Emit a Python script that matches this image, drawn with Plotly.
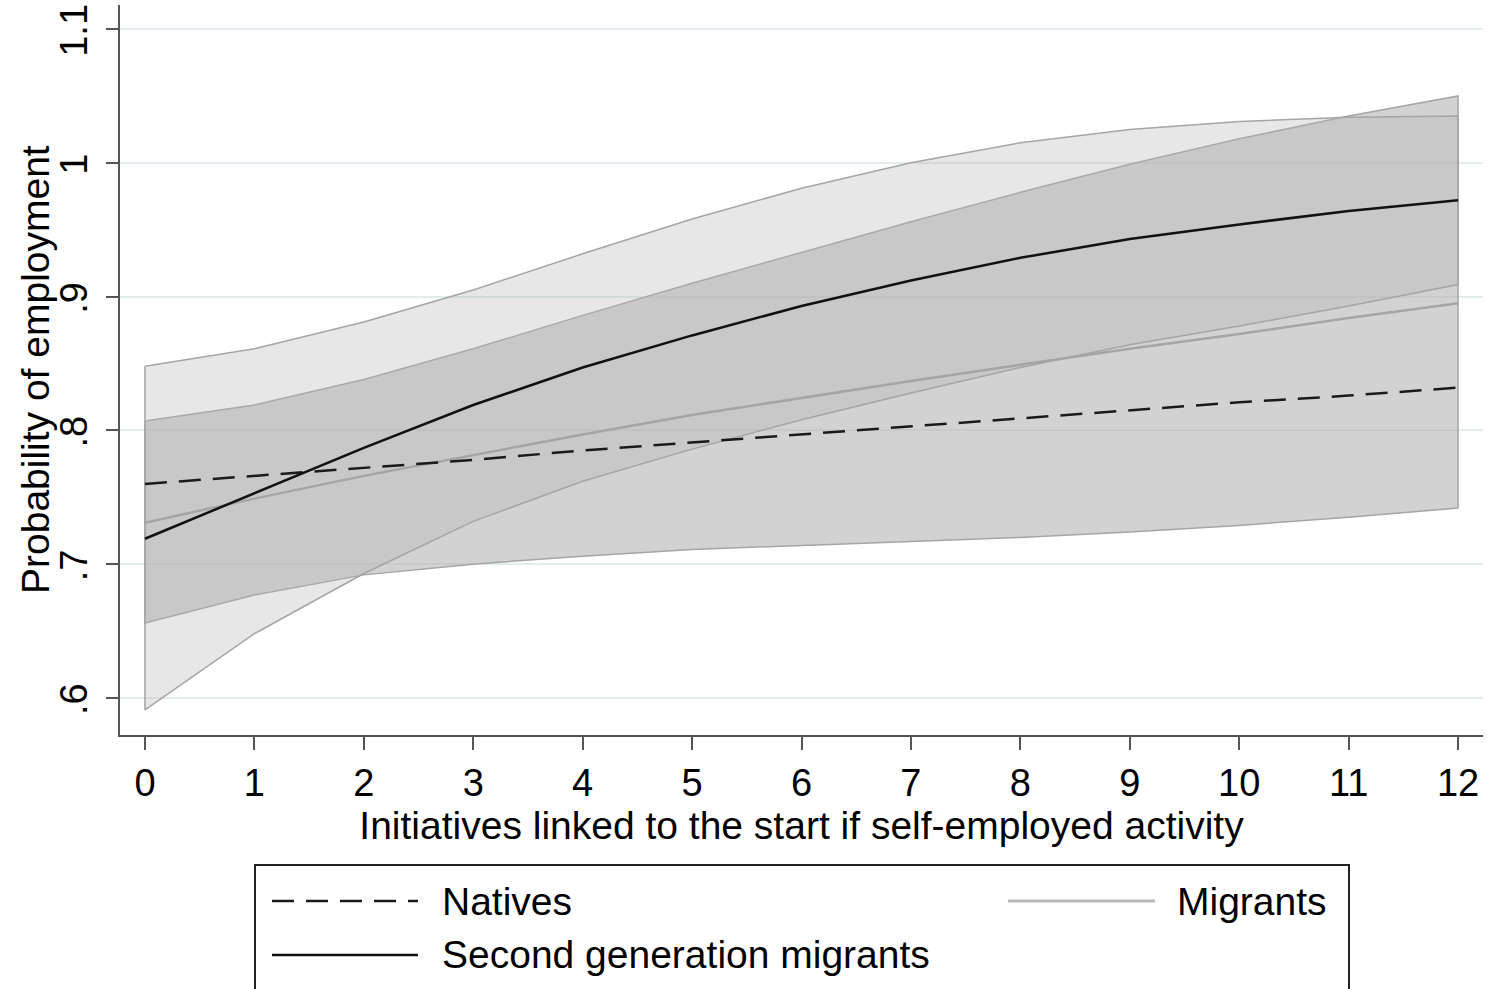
import plotly.graph_objects as go

# ---- data ----
x_vals = [0, 1, 2, 3, 4, 5, 6, 7, 8, 9, 10, 11, 12]

natives = [0.760, 0.766, 0.772, 0.778, 0.785, 0.791, 0.797, 0.803, 0.809, 0.815, 0.821, 0.826, 0.832]

second_gen = [0.719, 0.753, 0.787, 0.819, 0.847, 0.871, 0.893, 0.912, 0.929, 0.943, 0.954, 0.964, 0.972]
second_gen_lo = [0.591, 0.648, 0.693, 0.732, 0.762, 0.786, 0.808, 0.828, 0.847, 0.864, 0.878, 0.893, 0.909]
second_gen_hi = [0.848, 0.861, 0.881, 0.905, 0.932, 0.958, 0.981, 1.000, 1.015, 1.025, 1.031, 1.034, 1.035]

migrants = [0.731, 0.749, 0.766, 0.7815, 0.797, 0.8115, 0.8245, 0.837, 0.849, 0.861, 0.872, 0.884, 0.895]
migrants_lo = [0.656, 0.677, 0.692, 0.700, 0.706, 0.711, 0.714, 0.717, 0.720, 0.724, 0.729, 0.735, 0.742]
migrants_hi = [0.807, 0.819, 0.838, 0.861, 0.886, 0.910, 0.933, 0.956, 0.978, 0.999, 1.018, 1.035, 1.050]

y_ticks = [0.6, 0.7, 0.8, 0.9, 1.0, 1.1]
y_tick_labels = [".6", ".7", ".8", ".9", "1", "1.1"]
x_ticks = x_vals

x_title = "Initiatives linked to the start if self-employed activity"
y_title = "Probability of employment"
legend_names = ["Natives", "Migrants", "Second generation migrants"]

FONT = "Liberation Sans, Arial, sans-serif"
FS_TICK = 38
FS = 39

fig = go.Figure()

def band(lo, hi, fill):
    xs = list(x_vals) + list(reversed(x_vals)) + [x_vals[0]]
    ys = list(hi) + list(reversed(lo)) + [hi[0]]
    return go.Scatter(x=xs, y=ys, mode="lines", fill="toself", fillcolor=fill,
                      line=dict(color="rgb(165,165,165)", width=1.5),
                      hoverinfo="skip", showlegend=False)

fig.add_trace(band(migrants_lo, migrants_hi, "rgba(180,180,180,0.60)"))
fig.add_trace(band(second_gen_lo, second_gen_hi, "rgba(180,180,180,0.32)"))

fig.add_trace(go.Scatter(x=x_vals, y=migrants, mode="lines", name=legend_names[1],
                         line=dict(color="rgb(165,165,165)", width=2.5), showlegend=False))
fig.add_trace(go.Scatter(x=x_vals, y=natives, mode="lines", name=legend_names[0],
                         line=dict(color="#1a1a1a", width=2.5, dash="22px,12px"), showlegend=False))
fig.add_trace(go.Scatter(x=x_vals, y=second_gen, mode="lines", name=legend_names[2],
                         line=dict(color="#111111", width=2.5), showlegend=False))

# plot area geometry in pixels
W, H = 1491, 989
L, R, T, B = 120, 8, 5, 254
pw, ph = W - L - R, H - T - B

def px(xp):
    return (xp - L) / pw

def py(yp):
    return (H - B - yp) / ph

shapes = []
annotations = []
# legend box
shapes.append(dict(type="rect", xref="paper", yref="paper",
                   x0=px(255), x1=px(1349), y0=py(1010), y1=py(865),
                   line=dict(color="#222222", width=2), fillcolor="white", layer="above"))
# legend samples
shapes.append(dict(type="line", xref="paper", yref="paper", x0=px(272), x1=px(418), y0=py(901), y1=py(901),
                   line=dict(color="#1a1a1a", width=2.5, dash="22px,12px")))
shapes.append(dict(type="line", xref="paper", yref="paper", x0=px(1008), x1=px(1155), y0=py(901), y1=py(901),
                   line=dict(color="rgb(185,185,185)", width=3)))
shapes.append(dict(type="line", xref="paper", yref="paper", x0=px(272), x1=px(418), y0=py(955), y1=py(955),
                   line=dict(color="#111111", width=2.5)))
for name, xl, yl in [(legend_names[0], 440, 901), (legend_names[1], 1175, 901), (legend_names[2], 440, 955)]:
    annotations.append(dict(text=name, xref="paper", yref="paper", x=px(xl), y=py(yl),
                            xanchor="left", yanchor="middle", showarrow=False,
                            font=dict(family=FONT, size=FS, color="black")))
# y-axis title
annotations.append(dict(text=y_title, xref="paper", yref="paper", x=px(35), y=py(370),
                        xanchor="center", yanchor="middle", textangle=-90, showarrow=False,
                        font=dict(family=FONT, size=FS, color="black")))

fig.update_layout(
    width=W, height=H,
    margin=dict(l=L, r=R, t=T, b=B, autoexpand=False),
    paper_bgcolor="white", plot_bgcolor="white",
    font=dict(family=FONT, size=FS, color="black"),
    shapes=shapes, annotations=annotations,
    showlegend=False,
)
fig.update_xaxes(
    range=[-0.228, 12.228], tickvals=x_ticks, ticks="outside", ticklen=13, tickwidth=2,
    tickcolor="#555555", showline=True, linecolor="#555555", linewidth=2,
    showgrid=False, zeroline=False, ticklabeloverflow="allow",
    tickfont=dict(family=FONT, size=FS_TICK, color="black"),
    title=dict(text=x_title, font=dict(family=FONT, size=FS, color="black"), standoff=0),
)
fig.update_yaxes(
    range=[0.5723, 1.118], tickvals=y_ticks, ticktext=y_tick_labels, tickangle=-90,
    ticks="outside", ticklen=12, tickwidth=2, tickcolor="#555555",
    showline=True, linecolor="#555555", linewidth=2, ticklabeloverflow="allow",
    ticklabelstandoff=4, ticklabelshift=7,
    showgrid=True, gridcolor="#e3eced", gridwidth=1.5, zeroline=False,
    tickfont=dict(family=FONT, size=FS_TICK, color="black"),
)

fig.write_html("out.html", config={"displayModeBar": False},
               post_script="document.body.style.margin='0px';")
